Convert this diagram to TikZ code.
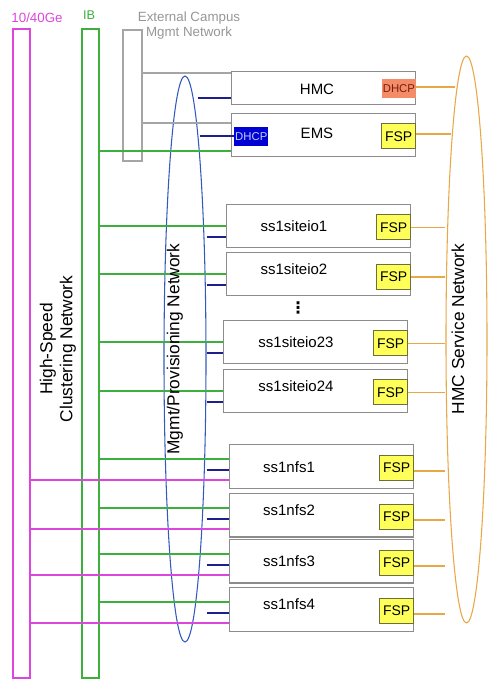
\documentclass[tikz,border=0pt]{standalone}
\usepackage{fontspec}
\setmainfont{Liberation Sans}
\newfontfamily\symfont{DejaVu Sans}
\usetikzlibrary{positioning, shapes.geometric}

\begin{document}
\begin{tikzpicture}[
    x=0.75pt, y=-0.75pt,     % one unit = one pixel of the sketch, y downwards
    font=\fontsize{11.25}{13.5}\selectfont,
    bar/.style={
        draw,
        line width=1.5pt,
        inner sep=0pt,
        anchor=north west
    },
    server/.style={
        draw=colorBox,
        line width=0.9pt,
        fill=white,
        inner sep=0pt,
        anchor=north west,
        minimum width=138pt,
        minimum height=32.5pt
    },
    fsp/.style={
        draw=colorFSPEdge,
        line width=0.8pt,
        fill=colorFSP,
        inner sep=0pt,
        anchor=east,
        yshift=-1pt,
        minimum width=25.5pt,
        minimum height=18.75pt,
        font=\fontsize{10.5}{12}\selectfont
    },
    dhcp/.style={
        inner sep=0pt,
        minimum width=25.5pt,
        minimum height=14.25pt,
        font=\fontsize{8.5}{10}\selectfont
    },
    network/.style={
        ellipse,
        draw,
        line width=0.8pt,
        inner sep=0pt
    },
    netlabel/.style={
        rotate=90,
        font=\fontsize{13}{15}\selectfont
    },
    ge/.style={draw=colorGe, line width=1.4pt},
    ib/.style={draw=colorIB, line width=1.4pt},
    ext/.style={draw=colorExt, line width=1.2pt},
    mgmt/.style={draw=colorMgmtLine, line width=1.5pt},
    svc/.style={draw=colorSvc, line width=1.4pt}
]

%--- Define colors ---
\definecolor{colorGe}{RGB}{220,70,220}          % Magenta
\definecolor{colorIB}{RGB}{60,175,60}           % Green
\definecolor{colorExt}{RGB}{165,165,165}        % Gray bar
\definecolor{colorExtText}{RGB}{150,150,150}    % Gray text
\definecolor{colorBox}{RGB}{140,140,140}        % Server border
\definecolor{colorMgmt}{RGB}{50,90,190}         % Blue ellipse
\definecolor{colorMgmtLine}{RGB}{30,30,140}     % Navy ports
\definecolor{colorSvc}{RGB}{232,168,70}         % Orange
\definecolor{colorFSP}{RGB}{255,255,90}         % Yellow
\definecolor{colorFSPEdge}{RGB}{110,110,60}
\definecolor{colorDhcpHmc}{RGB}{245,140,105}    % Salmon
\definecolor{colorDhcpHmcText}{RGB}{120,30,10}
\definecolor{colorDhcpEms}{RGB}{0,0,210}        % Blue
\definecolor{colorDhcpEmsText}{RGB}{190,210,255}

\useasboundingbox (0,0) rectangle (501,687);

%------------------------------------
% NETWORK BARS
%------------------------------------

% 10/40Ge
\node[bar, draw=colorGe, minimum width=12.75pt, minimum height=486.75pt] (ge_bar) at (12,28) {};
\node[text=colorGe, font=\fontsize{10}{12}\selectfont] (ge_label) at (37,18) {10/40Ge};

% IB
\node[bar, draw=colorIB, minimum width=12.5pt, minimum height=486.75pt] (ib_bar) at (81,28) {};
\node[text=colorIB, font=\fontsize{9.5}{11}\selectfont] (ib_label) at (89,15) {IB};

% External campus
\node[bar, draw=colorExt, minimum width=14.6pt, minimum height=98.6pt] (ext_bar) at (122,29) {};
\node[text=colorExtText, align=center, font=\fontsize{10}{11.25}\selectfont] (ext_label)
    at (189,25.8) {External Campus\\Mgmt Network};

%------------------------------------
% SERVERS
%------------------------------------

% HMC and EMS
\node[server, minimum height=25pt] (hmc) at (231,70.7) {};
\node (hmc_label) at (317,89.7) {HMC};
\node[dhcp, anchor=east, yshift=-0.7pt, fill=colorDhcpHmc, text=colorDhcpHmcText] (dhcp_hmc)
    at (hmc.east) {DHCP};

\node[server] (ems) at (231,112.7) {};
\node (ems_label) at (317,133) {EMS};
\node[dhcp, anchor=west, xshift=2.25pt, yshift=-0.9pt, fill=colorDhcpEms, text=colorDhcpEmsText] (dhcp_ems)
    at (ems.west) {DHCP};
\node[fsp] (fsp_ems) at (ems.east) {FSP};

% I/O servers
\node[server, minimum height=32.25pt] (siteio1) at (226,204) {};
\node (siteio1_label) at (294,225.7) {ss1siteio1};
\node[fsp] (fsp_io1) at (siteio1.east) {FSP};

\node[server, minimum height=32.25pt] (siteio2) at (226,252) {};
\node (siteio2_label) at (294,269.3) {ss1siteio2};
\node[fsp, yshift=-1pt] (fsp_io2) at (siteio2.east) {FSP};

\node[font=\symfont\bfseries\fontsize{12}{14}\selectfont] (dots) at (298,308) {⋮};

\node[server, minimum height=32.25pt] (siteio23) at (223,320) {};
\node (siteio23_label) at (296,342) {ss1siteio23};
\node[fsp] (fsp_io23) at (siteio23.east) {FSP};

\node[server, minimum height=32.25pt] (siteio24) at (223,369) {};
\node (siteio24_label) at (296,386) {ss1siteio24};
\node[fsp] (fsp_io24) at (siteio24.east) {FSP};

% NFS servers
\node[server, minimum height=33pt] (nfs1) at (229,444) {};
\node (nfs1_label) at (289,467) {ss1nfs1};
\node[fsp] (fsp_nfs1) at (nfs1.east) {FSP};

\node[server] (nfs2) at (229,493) {};
\node (nfs2_label) at (289,510) {ss1nfs2};
\node[fsp] (fsp_nfs2) at (nfs2.east) {FSP};

\node[server] (nfs3) at (229,539) {};
\node (nfs3_label) at (289,561) {ss1nfs3};
\node[fsp] (fsp_nfs3) at (nfs3.east) {FSP};

\node[server, minimum height=33pt] (nfs4) at (229,587) {};
\node (nfs4_label) at (289,604) {ss1nfs4};
\node[fsp] (fsp_nfs4) at (nfs4.east) {FSP};

%------------------------------------
% NETWORK ELLIPSES
%------------------------------------

\node[network, draw=colorMgmt, minimum width=31.5pt, minimum height=424.5pt] (mgmt_net) at (185,359) {};
\node[network, draw=colorSvc, minimum width=30.75pt, minimum height=425.25pt] (svc_net) at (466.5,339.5) {};

%------------------
% EDGES (LINKS)
%------------------

% External campus to HMC and EMS
\draw[ext] ([yshift=-1.5pt]ext_bar.east |- hmc.north west) -- ([yshift=-1.5pt]hmc.north west);
\draw[ext] ([yshift=-7.5pt]ext_bar.east |- ems.north west) -- ([yshift=-7.5pt]ems.north west);

% IB to every server but the HMC
\draw[ib] ([yshift=-11.75pt]ib_bar.east |- ems.west) -- ([yshift=-11.75pt]ems.west);
\draw[ib] (ib_bar.east |- siteio1.west) -- (siteio1.west);
\draw[ib] (ib_bar.east |- siteio2.west) -- (siteio2.west);
\draw[ib] (ib_bar.east |- siteio23.west) -- (siteio23.west);
\draw[ib] (ib_bar.east |- siteio24.west) -- (siteio24.west);
\draw[ib] ([yshift=5.5pt]ib_bar.east |- nfs1.west) -- ([yshift=5.5pt]nfs1.west);
\draw[ib] ([yshift=5.5pt]ib_bar.east |- nfs2.west) -- ([yshift=5.5pt]nfs2.west);
\draw[ib] ([yshift=5.5pt]ib_bar.east |- nfs3.west) -- ([yshift=5.5pt]nfs3.west);
\draw[ib] ([yshift=5.5pt]ib_bar.east |- nfs4.west) -- ([yshift=5.5pt]nfs4.west);

% 10/40Ge to the NFS servers
\draw[ge] ([yshift=-10pt]ge_bar.east |- nfs1.west) -- ([yshift=-10pt]nfs1.west);
\draw[ge] ([yshift=-10pt]ge_bar.east |- nfs2.west) -- ([yshift=-10pt]nfs2.west);
\draw[ge] ([yshift=-10pt]ge_bar.east |- nfs3.west) -- ([yshift=-10pt]nfs3.west);
\draw[ge] ([yshift=-10pt]ge_bar.east |- nfs4.west) -- ([yshift=-10pt]nfs4.west);

% Mgmt/Provisioning ports
\draw[mgmt, shorten <=-6.75pt] ([yshift=-7.75pt]mgmt_net.east |- hmc.west) -- ([yshift=-7.75pt]hmc.west);
\draw[mgmt, shorten <=-5pt] (mgmt_net.east |- dhcp_ems.west) -- (dhcp_ems.west);
\draw[mgmt] ([yshift=-8pt]mgmt_net.east |- siteio1.west) -- ([yshift=-8pt]siteio1.west);
\draw[mgmt] ([yshift=-8pt]mgmt_net.east |- siteio2.west) -- ([yshift=-8pt]siteio2.west);
\draw[mgmt] ([yshift=-8pt]mgmt_net.east |- siteio23.west) -- ([yshift=-8pt]siteio23.west);
\draw[mgmt] ([yshift=-8pt]mgmt_net.east |- siteio24.west) -- ([yshift=-8pt]siteio24.west);
\draw[mgmt] ([yshift=-2.5pt]mgmt_net.east |- nfs1.west) -- ([yshift=-2.5pt]nfs1.west);
\draw[mgmt] ([yshift=-2.5pt]mgmt_net.east |- nfs2.west) -- ([yshift=-2.5pt]nfs2.west);
\draw[mgmt] ([yshift=-2.5pt]mgmt_net.east |- nfs3.west) -- ([yshift=-2.5pt]nfs3.west);
\draw[mgmt] ([yshift=-2.5pt]mgmt_net.east |- nfs4.west) -- ([yshift=-2.5pt]nfs4.west);

% HMC service network
\draw[svc, shorten >=-7.5pt] ([yshift=1.5pt]dhcp_hmc.east) -- ([yshift=1.5pt]dhcp_hmc.east -| svc_net.west);
\draw[svc, shorten >=-4.5pt] ([yshift=1.5pt]fsp_ems.east) -- ([yshift=1.5pt]fsp_ems.east -| svc_net.west);
\draw[svc] (fsp_io1.east) -- (fsp_io1.east -| svc_net.west);
\draw[svc] (fsp_io2.east) -- (fsp_io2.east -| svc_net.west);
\draw[svc] (fsp_io23.east) -- (fsp_io23.east -| svc_net.west);
\draw[svc] (fsp_io24.east) -- (fsp_io24.east -| svc_net.west);
\draw[svc] ([yshift=-2.5pt]fsp_nfs1.east) -- ([yshift=-2.5pt]fsp_nfs1.east -| svc_net.west);
\draw[svc] ([yshift=-2.5pt]fsp_nfs2.east) -- ([yshift=-2.5pt]fsp_nfs2.east -| svc_net.west);
\draw[svc] ([yshift=-2.5pt]fsp_nfs3.east) -- ([yshift=-2.5pt]fsp_nfs3.east -| svc_net.west);
\draw[svc] ([yshift=-2.5pt]fsp_nfs4.east) -- ([yshift=-2.5pt]fsp_nfs4.east -| svc_net.west);

%------------------
% NETWORK LABELS
%------------------
\node[netlabel, align=center] (hs_label) at (58,349) {High-Speed\\Clustering Network};
\node[netlabel] (mgmt_label) at (175,349) {Mgmt/Provisioning Network};
\node[netlabel] (svc_label) at (458,329) {HMC Service Network};

\end{tikzpicture}
\end{document}
